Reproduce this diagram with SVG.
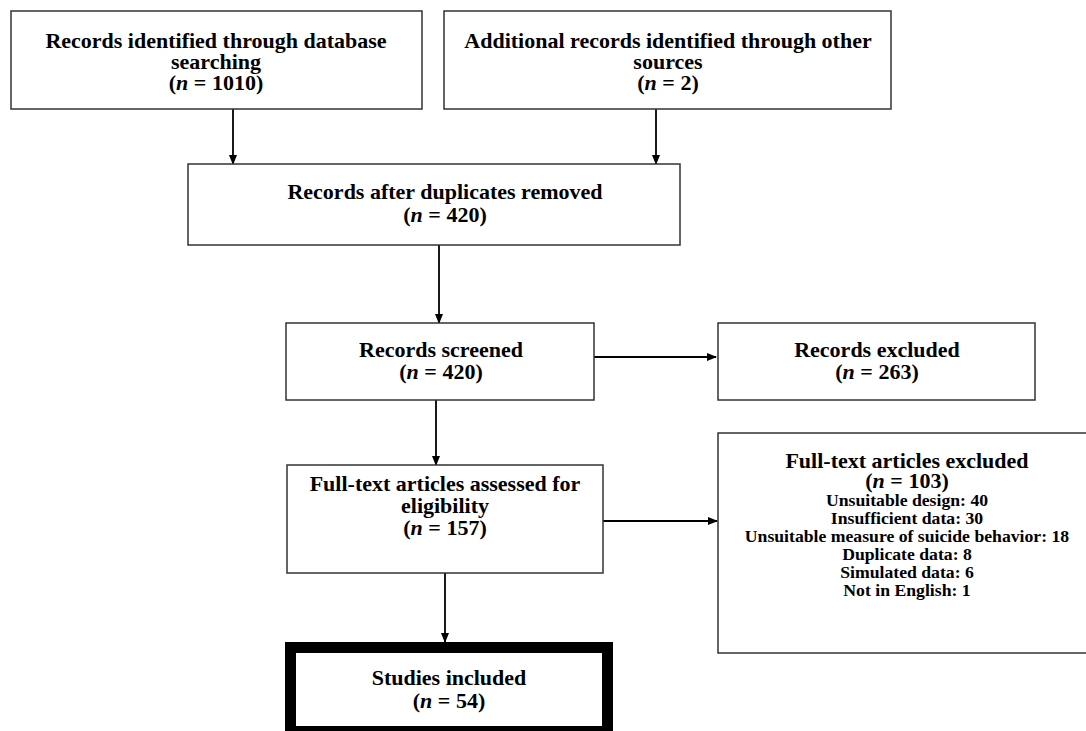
<svg xmlns="http://www.w3.org/2000/svg" width="1086" height="731" viewBox="0 0 1086 731">
<style>
.box{fill:#fff;stroke:#333;stroke-width:1.5}
.thick{fill:#fff;stroke:#000;stroke-width:11}
.t{font-family:"Liberation Serif","Times New Roman",serif;font-weight:bold;font-size:22px;fill:#000;text-anchor:middle}
.s{font-size:17.7px}
.c{stroke:#000;stroke-width:1.8;fill:none}
</style>
<defs>
<marker id="ah" markerWidth="10" markerHeight="10" refX="9" refY="5" orient="auto" markerUnits="userSpaceOnUse">
<path d="M0,1 L10,5 L0,9 Z" fill="#000"/>
</marker>
</defs>
<rect width="1086" height="731" fill="#fff"/>
<g id="connectors">
<line class="c" x1="233" y1="109" x2="233" y2="164" marker-end="url(#ah)"/>
<line class="c" x1="656" y1="109" x2="656" y2="164" marker-end="url(#ah)"/>
<line class="c" x1="439" y1="245" x2="439" y2="323" marker-end="url(#ah)"/>
<line class="c" x1="594" y1="357" x2="716" y2="357" marker-end="url(#ah)"/>
<line class="c" x1="436" y1="400" x2="436" y2="465" marker-end="url(#ah)"/>
<line class="c" x1="603" y1="521" x2="717" y2="521" marker-end="url(#ah)"/>
<line class="c" x1="445" y1="573" x2="445" y2="642" marker-end="url(#ah)"/>
</g>
<g id="n1">
<rect class="box" x="11" y="11" width="411" height="98"/>
<text class="t" x="216" y="48">Records identified through database</text>
<text class="t" x="216" y="69">searching</text>
<text class="t" x="216" y="90">(<tspan font-style="italic">n</tspan> = 1010)</text>
</g>
<g id="n2">
<rect class="box" x="444" y="11" width="447" height="98"/>
<text class="t" x="668" y="48">Additional records identified through other</text>
<text class="t" x="668" y="69">sources</text>
<text class="t" x="668" y="90">(<tspan font-style="italic">n</tspan> = 2)</text>
</g>
<g id="n3">
<rect class="box" x="188" y="164" width="492" height="81"/>
<text class="t" x="445" y="199">Records after duplicates removed</text>
<text class="t" x="445" y="222">(<tspan font-style="italic">n</tspan> = 420)</text>
</g>
<g id="n4">
<rect class="box" x="286" y="323" width="308" height="77"/>
<text class="t" x="441" y="357">Records screened</text>
<text class="t" x="441" y="379">(<tspan font-style="italic">n</tspan> = 420)</text>
</g>
<g id="n5">
<rect class="box" x="718" y="323" width="317" height="77"/>
<text class="t" x="877" y="357">Records excluded</text>
<text class="t" x="877" y="379">(<tspan font-style="italic">n</tspan> = 263)</text>
</g>
<g id="n6">
<rect class="box" x="287" y="465" width="316" height="108"/>
<text class="t" x="445" y="491">Full-text articles assessed for</text>
<text class="t" x="445" y="513">eligibility</text>
<text class="t" x="445" y="535">(<tspan font-style="italic">n</tspan> = 157)</text>
</g>
<g id="n7">
<rect class="box" x="718" y="433" width="370" height="220"/>
<text class="t" x="907" y="468">Full-text articles excluded</text>
<text class="t" x="907" y="488">(<tspan font-style="italic">n</tspan> = 103)</text>
<text class="t s" x="907" y="506">Unsuitable design: 40</text>
<text class="t s" x="907" y="524">Insufficient data: 30</text>
<text class="t s" x="907" y="542">Unsuitable measure of suicide behavior: 18</text>
<text class="t s" x="907" y="560">Duplicate data: 8</text>
<text class="t s" x="907" y="578">Simulated data: 6</text>
<text class="t s" x="907" y="596">Not in English: 1</text>
</g>
<g id="n8">
<rect class="thick" x="290.5" y="647.5" width="317" height="84"/>
<text class="t" x="449" y="685">Studies included</text>
<text class="t" x="449" y="708">(<tspan font-style="italic">n</tspan> = 54)</text>
</g>
</svg>
